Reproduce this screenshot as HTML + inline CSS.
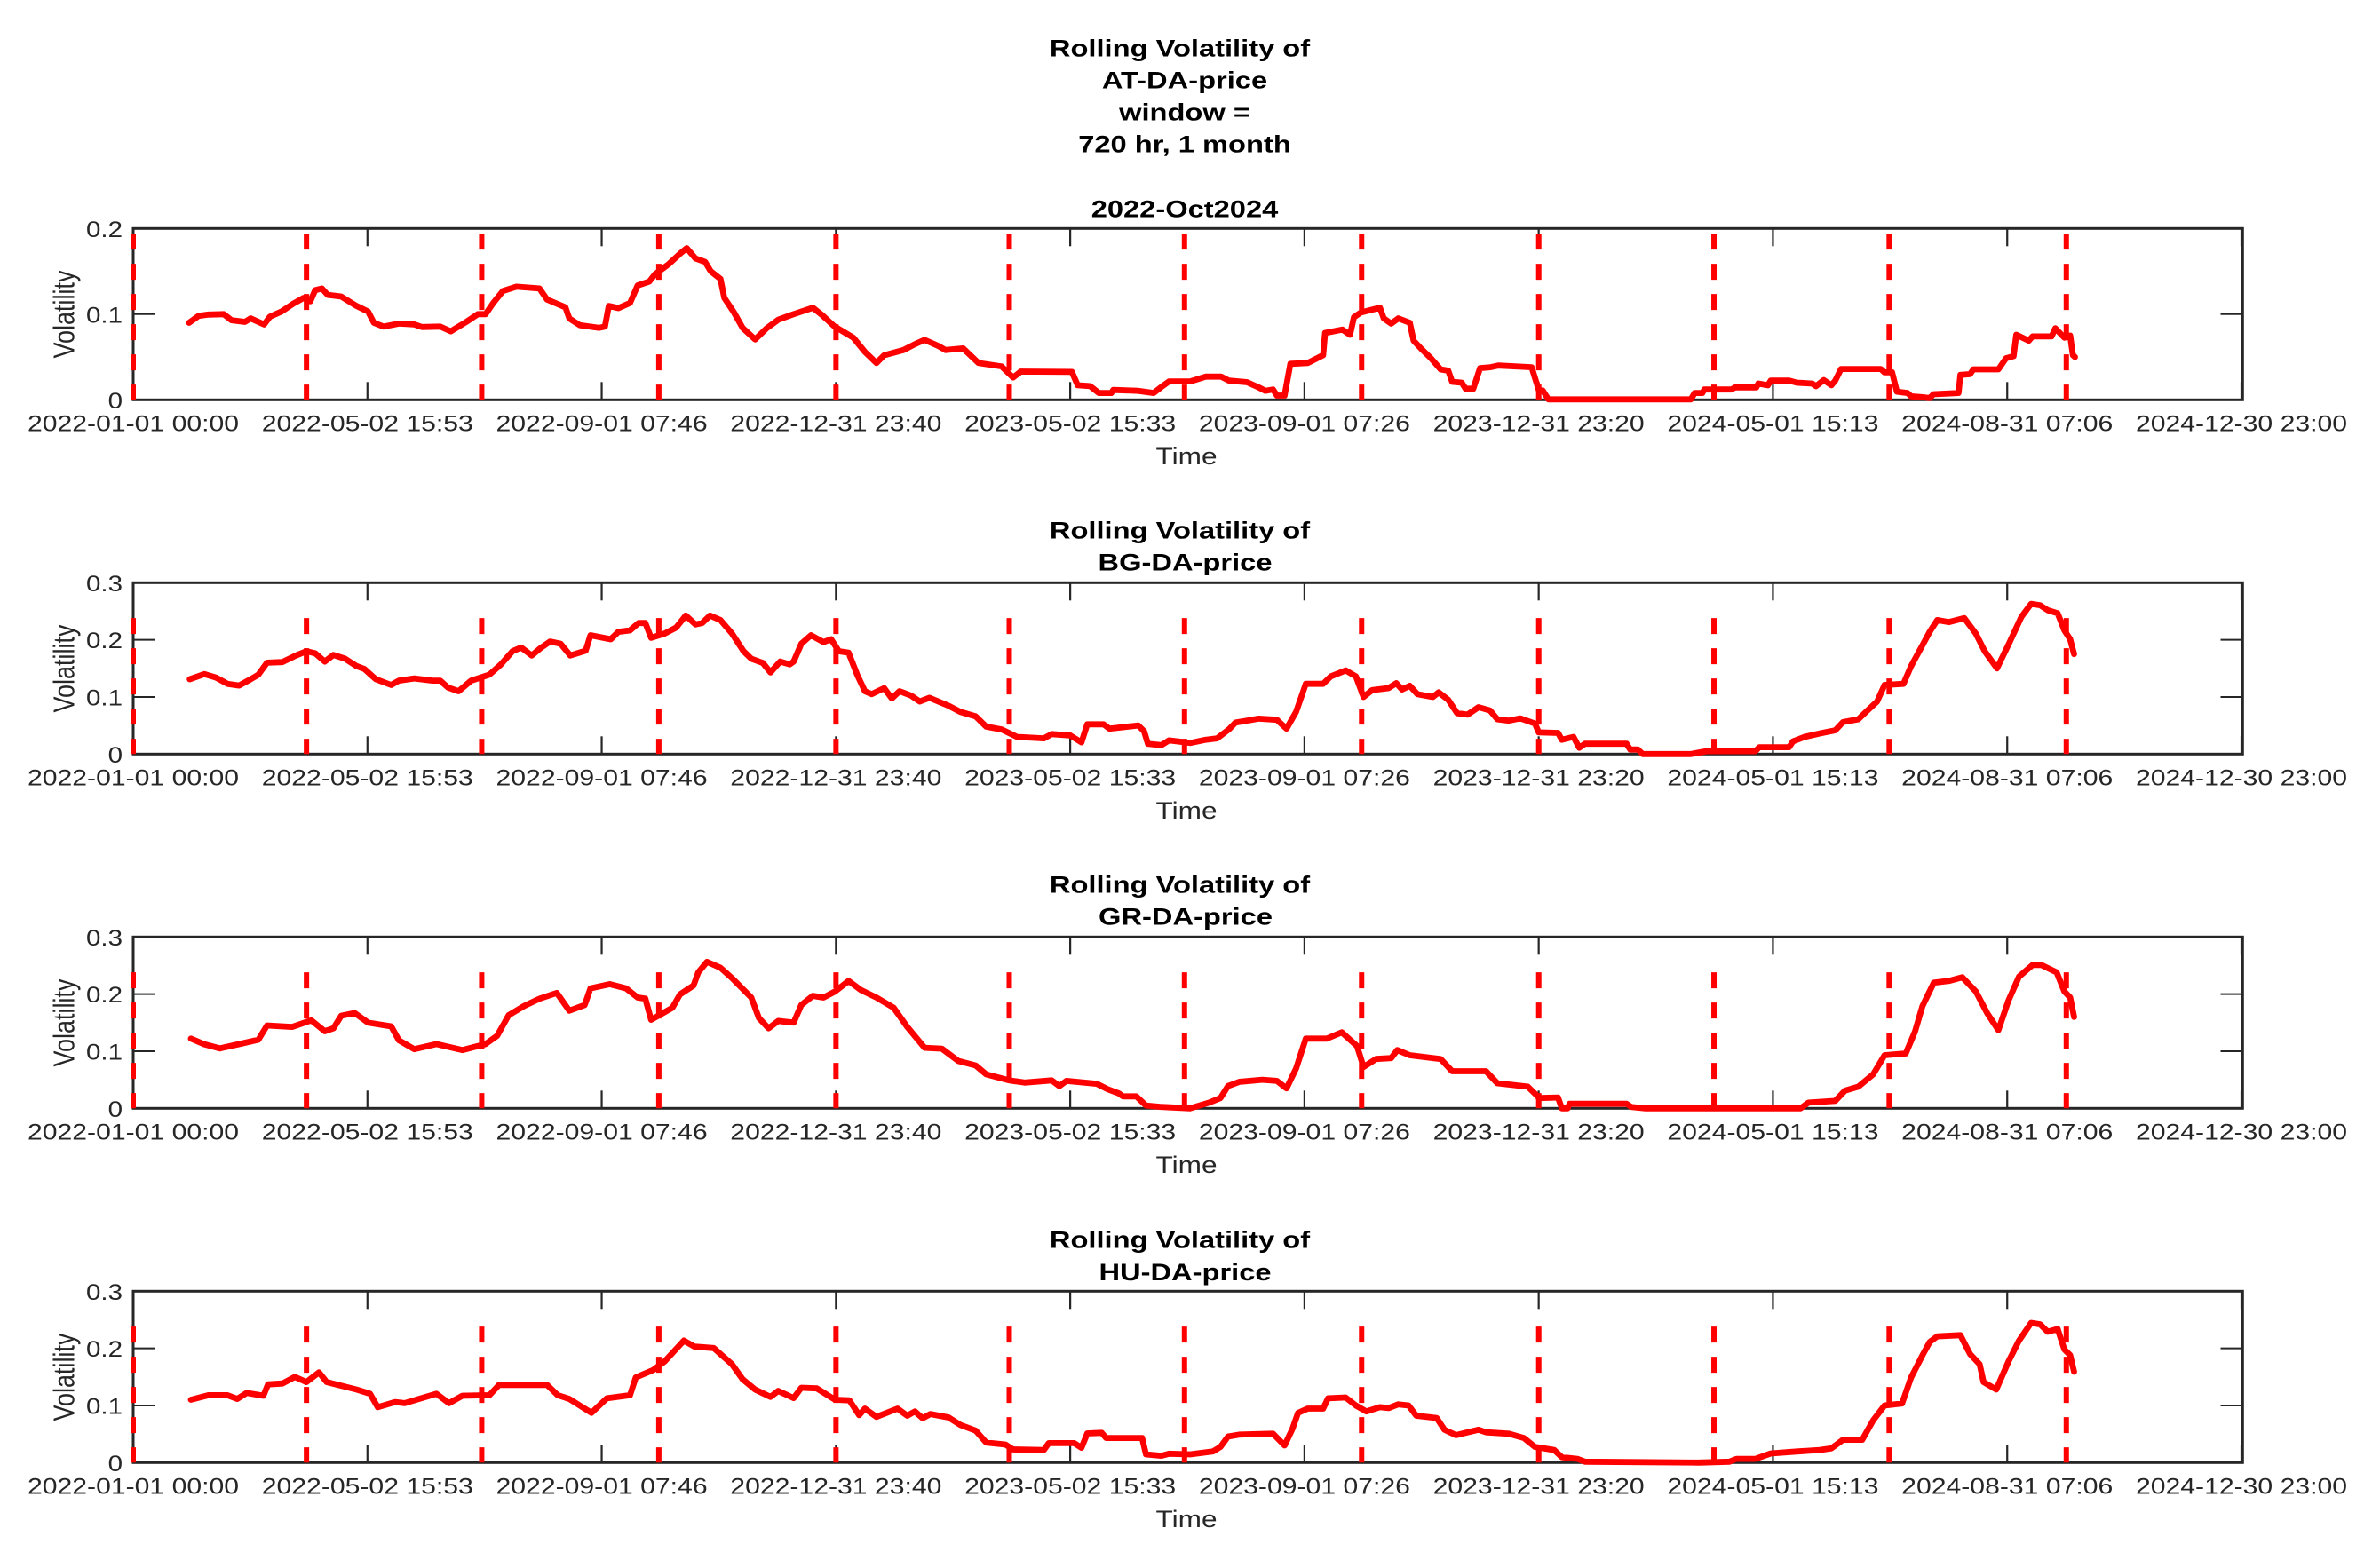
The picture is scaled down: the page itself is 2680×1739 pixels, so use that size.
<!DOCTYPE html>
<html lang="en">
<head>
<meta charset="utf-8">
<title>Rolling Volatility of DA prices</title>
<style>
html,body{margin:0;padding:0;background:#fff;}
svg{display:block;}
text{font-family:"Liberation Sans",sans-serif;fill:#262626;}
.ttl{font-size:27px;font-weight:bold;fill:#000;text-anchor:middle;}
.tick{font-size:24.6px;}
.lab{font-size:27px;text-anchor:middle;}
</style>
</head>
<body>
<svg id="chart" xmlns="http://www.w3.org/2000/svg" width="2680" height="1739" viewBox="0 0 2680 1739">
  <rect x="0" y="0" width="2680" height="1739" fill="#fff"/>
  <g>
    <text class="ttl" transform="translate(1328.5,63.6) scale(1.21,1)">Rolling Volatility of</text>
    <text class="ttl" transform="translate(1334,99.3) scale(1.21,1)">AT-DA-price</text>
    <text class="ttl" transform="translate(1334,135.7) scale(1.21,1)">window =</text>
    <text class="ttl" transform="translate(1334,171.4) scale(1.21,1)">720 hr, 1 month</text>
    <text class="ttl" transform="translate(1334,244.6) scale(1.21,1)">2022-Oct2024</text>
  </g>
  <g id="panel-0"></g>
  <g id="panel-1">
    <text class="ttl" transform="translate(1328.5,606.7) scale(1.21,1)">Rolling Volatility of</text>
    <text class="ttl" transform="translate(1334.5,642.7) scale(1.21,1)">BG-DA-price</text>
  </g>
  <g id="panel-2">
    <text class="ttl" transform="translate(1328.5,1005.3) scale(1.21,1)">Rolling Volatility of</text>
    <text class="ttl" transform="translate(1335,1041.3) scale(1.21,1)">GR-DA-price</text>
  </g>
  <g id="panel-3">
    <text class="ttl" transform="translate(1328.5,1405.3) scale(1.21,1)">Rolling Volatility of</text>
    <text class="ttl" transform="translate(1334.5,1442) scale(1.21,1)">HU-DA-price</text>
  </g>
</svg>
<script>
// Time values are days since 2022-01-01 00:00.
const xTickDays = [0,121.66,243.32,364.99,486.65,608.31,729.97,851.63,973.3,1094.96];
const xTickLabels = ["2022-01-01 00:00","2022-05-02 15:53","2022-09-01 07:46","2022-12-31 23:40","2023-05-02 15:33","2023-09-01 07:26","2023-12-31 23:20","2024-05-01 15:13","2024-08-31 07:06","2024-12-30 23:00"];
const quarterDays = [0,90,181,273,365,455,546,638,730,821,912,1004];
const yTicksAT = [0,0.1,0.2];
const yTicksOther = [0,0.1,0.2,0.3];
const yTickLabelsAT = ["0","0.1","0.2"];
const yTickLabelsOther = ["0","0.1","0.2","0.3"];
const yMaxes = [0.2,0.3,0.3,0.3];
const quarterLineTops = [0.194,0.238,0.238,0.238];

const atDays = [29,34,39,47,51,58,61,68,71,77,83,88.5,92,94.5,98,101,108,116,122,125,130,138,146,150,159.5,165,173,179,183,187,192,199,211,215,224.5,226.5,232,242,245,247,252,258,262,268,271,278,284,287.5,292,297,300,305,307,312,316.5,323,329,335,343,353,358,364,374,380,386,390,400,406,411,418,422,431,439,451,457,461,487.5,490.5,497,501.5,508,509,522,530,534,538,549,557,565,569,578.5,584.5,588,592,594,598,601,610,618,619,628,632,634,637.6,647.5,649.5,653.4,657,663,665,669,674,679,683,685,690,692,696,699.5,705,709,726.3,730,732,735,809,811,815,816,830,832,843,844,849,850.5,860,864,872,874,878,882,884,887,907.6,909.6,913.5,916,921.5,923.4,929.3,933,935,948,949,954,955.7,968.7,972.7,976.6,978,984.5,986.5,996.3,998.3,1003,1006,1007.4,1008.5];
const atVol = [0.09,0.098,0.0995,0.1,0.093,0.091,0.095,0.088,0.097,0.103,0.112,0.119,0.115,0.128,0.13,0.1225,0.1205,0.1095,0.103,0.09,0.0855,0.089,0.088,0.085,0.0855,0.08,0.091,0.1,0.1,0.113,0.127,0.132,0.13,0.117,0.108,0.095,0.087,0.084,0.0855,0.1095,0.107,0.113,0.1335,0.138,0.1465,0.158,0.1705,0.177,0.165,0.161,0.15,0.141,0.119,0.102,0.084,0.0705,0.0835,0.0935,0.1,0.1075,0.0985,0.086,0.0725,0.056,0.043,0.052,0.058,0.065,0.07,0.063,0.058,0.06,0.043,0.039,0.026,0.033,0.0325,0.017,0.016,0.008,0.008,0.0115,0.0105,0.008,0.015,0.0215,0.0215,0.027,0.027,0.0225,0.0205,0.0145,0.0105,0.012,0.005,0.005,0.042,0.043,0.052,0.078,0.082,0.076,0.0965,0.102,0.1075,0.095,0.089,0.095,0.09,0.069,0.0595,0.0485,0.0355,0.034,0.021,0.02,0.013,0.013,0.037,0.038,0.04,0.038,0.0115,0.011,0.0005,0.0005,0.008,0.008,0.012,0.012,0.0145,0.0145,0.019,0.017,0.0225,0.0225,0.02,0.019,0.016,0.023,0.017,0.0225,0.036,0.036,0.032,0.032,0.0095,0.008,0.004,0.003,0.002,0.0065,0.008,0.029,0.03,0.0355,0.0355,0.0485,0.051,0.076,0.069,0.074,0.074,0.0835,0.0725,0.075,0.052,0.05];

const bgDays = [29.4,37,43,49,55,61,65,69.5,77.5,84.5,90,94.5,99.5,104,110,116,120,126,134,138,146,155.5,159.5,163.5,169,175.5,185,191,197,201.5,207,211.5,216.5,222,227,235,237.5,248,252,258,262.5,266,269,276,282,287,292,295.5,299.5,305,311,317,321,327,331,336,341,343,347,352,358.5,362.5,366.5,371.5,376,380,383.5,390,394,398,404,408.5,413.5,423.5,429.5,437.5,443,451,459,473,477,486.7,492.5,495.5,504,507,522,525,527,534,538,549,557,563,569,572.5,584.5,594,599,604,609,618,622,629.7,635,639,643.5,652,656,659,663,667,675,678,683,687.6,693,698.7,704.6,708.5,714.5,720.4,728,730,740,742,748,751,754,775.6,777.5,781.5,784,809,817,842.5,844.5,860,862,868,876,884,888,896,900,905.7,909.6,919.4,923.4,929.3,933,937,943,951,957,961.6,968,974.6,980.6,985.7,990.4,994.3,999.5,1003,1006,1008];
const bgVol = [0.131,0.14,0.134,0.123,0.12,0.131,0.139,0.16,0.161,0.1725,0.18,0.1765,0.162,0.1735,0.167,0.154,0.149,0.131,0.121,0.1285,0.1325,0.1285,0.1285,0.1165,0.11,0.1285,0.139,0.157,0.18,0.1865,0.1725,0.1855,0.197,0.193,0.1725,0.181,0.208,0.201,0.214,0.2165,0.2295,0.2295,0.2035,0.211,0.2215,0.2425,0.227,0.2295,0.2425,0.2345,0.211,0.18,0.167,0.1595,0.143,0.162,0.157,0.162,0.193,0.208,0.196,0.201,0.18,0.1775,0.139,0.11,0.105,0.1155,0.0975,0.11,0.1025,0.092,0.0985,0.0845,0.074,0.066,0.048,0.043,0.03,0.0275,0.035,0.0325,0.0205,0.052,0.052,0.0445,0.05,0.04,0.018,0.0155,0.024,0.0195,0.025,0.0275,0.043,0.055,0.062,0.06,0.0445,0.074,0.123,0.123,0.136,0.1465,0.136,0.1,0.112,0.1155,0.124,0.113,0.1195,0.105,0.1,0.108,0.095,0.0715,0.069,0.082,0.0765,0.061,0.0585,0.0625,0.0535,0.038,0.037,0.025,0.03,0.011,0.018,0.018,0.008,0.008,0,0,0.005,0.005,0.012,0.012,0.022,0.03,0.036,0.0415,0.056,0.061,0.074,0.092,0.121,0.123,0.154,0.1905,0.214,0.2345,0.231,0.238,0.211,0.18,0.15,0.196,0.24,0.263,0.2605,0.252,0.2465,0.2165,0.201,0.175];

const grDays = [30,37,45,57,65,69.5,82.5,92.5,99.5,104,108,115,122,134,138,146,157.5,171,183,189,195,203,211,220,226.5,234.5,237.5,247.5,256,262,266,269,280,284,291,293.5,298,305,311,321,325,330,335,343,347,353,358.5,364.5,371.5,378,386,395,402,411,420,428.5,437.5,443,455,463,477,481,484.7,500.4,506,512,514,521,526,534,549,558.8,564.7,568.6,574.5,586.4,594,599,604,609,620,627.7,635.6,639,645.5,653.4,656.5,663,679,685,702.6,708.5,724.3,729.5,730,740,742,745,746,775.6,778,785,866,870,884,889,896,903.7,909.6,920.6,925.4,929.3,935.2,943,950,957,963,968.7,974,979.4,986.5,991,999,1003,1006,1008];
const grVol = [0.122,0.112,0.105,0.114,0.12,0.145,0.1425,0.154,0.135,0.14,0.162,0.167,0.15,0.1435,0.119,0.1035,0.1125,0.102,0.1125,0.127,0.163,0.179,0.192,0.202,0.171,0.181,0.21,0.2175,0.21,0.194,0.192,0.155,0.176,0.1995,0.215,0.238,0.2565,0.246,0.228,0.194,0.158,0.14,0.153,0.15,0.181,0.197,0.194,0.2045,0.223,0.207,0.194,0.176,0.1425,0.106,0.1045,0.083,0.075,0.0595,0.049,0.045,0.049,0.039,0.048,0.043,0.0335,0.026,0.021,0.021,0.005,0.0025,0,0.01,0.018,0.039,0.0465,0.05,0.048,0.035,0.07,0.122,0.122,0.133,0.109,0.0725,0.0865,0.088,0.102,0.093,0.0865,0.065,0.065,0.044,0.038,0.021,0.018,0.019,0,0,0.008,0.008,0.0025,0,0,0.01,0.013,0.031,0.038,0.0595,0.093,0.096,0.1345,0.179,0.22,0.223,0.2295,0.2045,0.166,0.137,0.189,0.2305,0.251,0.251,0.238,0.2045,0.194,0.16];

const huDays = [30,39,49,54,59,67.6,70,77.5,84,90,96.5,100.5,116,123,127,136,141,157.5,164,171,185,190,215,220.5,226.5,238,246,258,261,270,276,286,291.5,301.5,311,316.5,323,331,335,343,347,355,364.5,372,377,380,386,397,402,406,410,414,423.5,429.5,437.5,443,453,457,473,475.5,488.7,492.5,495.5,503,505.3,524,526,534,538,549,560.7,564.7,568.6,574.5,592,598,602,605,610,618,620.6,629.7,635,640.4,647.5,652,657,662.4,666.4,677,681,687,698.7,702.6,714.5,722.3,728,738,742,750,754,813,829,832.7,842.6,850.5,864,876,882,888,898,903.7,909.6,918.7,923.4,929.3,933,937,949,954,959,961,967.6,974,979.4,985.7,990.4,994.3,999.5,1003,1006,1008];
const huVol = [0.11,0.118,0.118,0.1115,0.122,0.117,0.137,0.1385,0.15,0.141,0.158,0.141,0.128,0.1205,0.097,0.106,0.104,0.1205,0.104,0.117,0.118,0.136,0.136,0.118,0.1115,0.087,0.1125,0.118,0.149,0.162,0.177,0.2135,0.203,0.2005,0.172,0.146,0.128,0.115,0.1255,0.113,0.131,0.13,0.11,0.109,0.083,0.0945,0.08,0.0945,0.082,0.0895,0.0775,0.085,0.079,0.066,0.056,0.035,0.0315,0.023,0.022,0.034,0.034,0.026,0.051,0.052,0.043,0.043,0.0145,0.012,0.0155,0.0145,0.0195,0.0275,0.0455,0.049,0.0505,0.03,0.0585,0.087,0.0945,0.0945,0.1125,0.114,0.1,0.0895,0.097,0.0955,0.102,0.1,0.082,0.078,0.0575,0.048,0.0575,0.053,0.0505,0.043,0.0275,0.022,0.0095,0.0065,0.0015,0,0.0015,0.0065,0.0065,0.016,0.0195,0.022,0.025,0.04,0.04,0.074,0.1,0.1035,0.149,0.188,0.211,0.221,0.223,0.19,0.172,0.141,0.128,0.177,0.2135,0.2445,0.242,0.229,0.234,0.198,0.188,0.159];

const seriesDays = [atDays,bgDays,grDays,huDays];
const seriesVol = [atVol,bgVol,grVol,huVol];
const NS = 'http://www.w3.org/2000/svg';

function xScale(day){ return 150 + day * (2524 - 150) / 1094.96; }
function plotTop(i){ return 257.3 + 399 * i; }
function plotBottom(i){ return plotTop(i) + 193; }
function yScale(i, v){ return plotBottom(i) - v / yMaxes[i] * 193; }
function make(tag, attrs){
  const el = document.createElementNS(NS, tag);
  for (const k in attrs) el.setAttribute(k, attrs[k]);
  return el;
}

seriesVol.forEach(function(vol, i){
  const g = document.getElementById('panel-' + i);
  const top = plotTop(i), bot = plotBottom(i);
  const days = seriesDays[i];

  const box = make('rect', {x:150, y:top, width:2375.3, height:193, fill:'none', stroke:'#262626', 'stroke-width':3});
  
  
  g.appendChild(box);

  xTickDays.forEach(function(d, k){
    const x = xScale(d);
    [[bot, bot - 20], [top, top + 20]].forEach(function(p){
      const t = make('line', {x1:x, x2:x, y1:p[0], y2:p[1], stroke:'#262626', 'stroke-width':2.2});
      
      
      g.appendChild(t);
    });
    const lab = make('text', {class:'tick', 'text-anchor':'middle', transform:'translate(' + x + ',' + (bot + 35) + ') scale(1.226,1)'});
    
    
    lab.textContent = xTickLabels[k];
    g.appendChild(lab);
  });

  const yTicks = i === 0 ? yTicksAT : yTicksOther;
  const yLabels = i === 0 ? yTickLabelsAT : yTickLabelsOther;
  yTicks.forEach(function(v, k){
    const y = yScale(i, v);
    [[150, 175], [2525, 2500.5]].forEach(function(p){
      const t = make('line', {x1:p[0], x2:p[1], y1:y, y2:y, stroke:'#262626', 'stroke-width':2});
      
      
      g.appendChild(t);
    });
    const lab = make('text', {class:'tick', 'text-anchor':'end', transform:'translate(138,' + (y + 9.5) + ') scale(1.2,1)'});
    
    
    lab.textContent = yLabels[k];
    g.appendChild(lab);
  });

  const yTitle = make('text', {class:'lab', transform:'translate(83.3,' + (top + 96.7) + ') scale(1.22,1) rotate(-90)'});
  
  
  yTitle.textContent = 'Volatility';
  g.appendChild(yTitle);

  const xTitle = make('text', {class:'lab', transform:'translate(1336,' + (bot + 72.5) + ') scale(1.17,1)'});
  
  
  xTitle.textContent = 'Time';
  g.appendChild(xTitle);

  const pts = days.map(function(d, k){ return xScale(d).toFixed(1) + ',' + yScale(i, vol[k]).toFixed(1); }).join(' ');
  const line = make('polyline', {points:pts, fill:'none', stroke:'#ff0000', 'stroke-width':6.8, 'stroke-linejoin':'round', 'stroke-linecap':'round'});
  
  
  g.appendChild(line);

  quarterDays.forEach(function(d){
    const x = xScale(d);
    const v = make('line', {x1:x, x2:x, y1:yScale(i, quarterLineTops[i]), y2:bot, stroke:'#ff0000', 'stroke-width':6, 'stroke-dasharray':'18 16'});
    
    
    g.appendChild(v);
  });
});
</script>
</body>
</html>
